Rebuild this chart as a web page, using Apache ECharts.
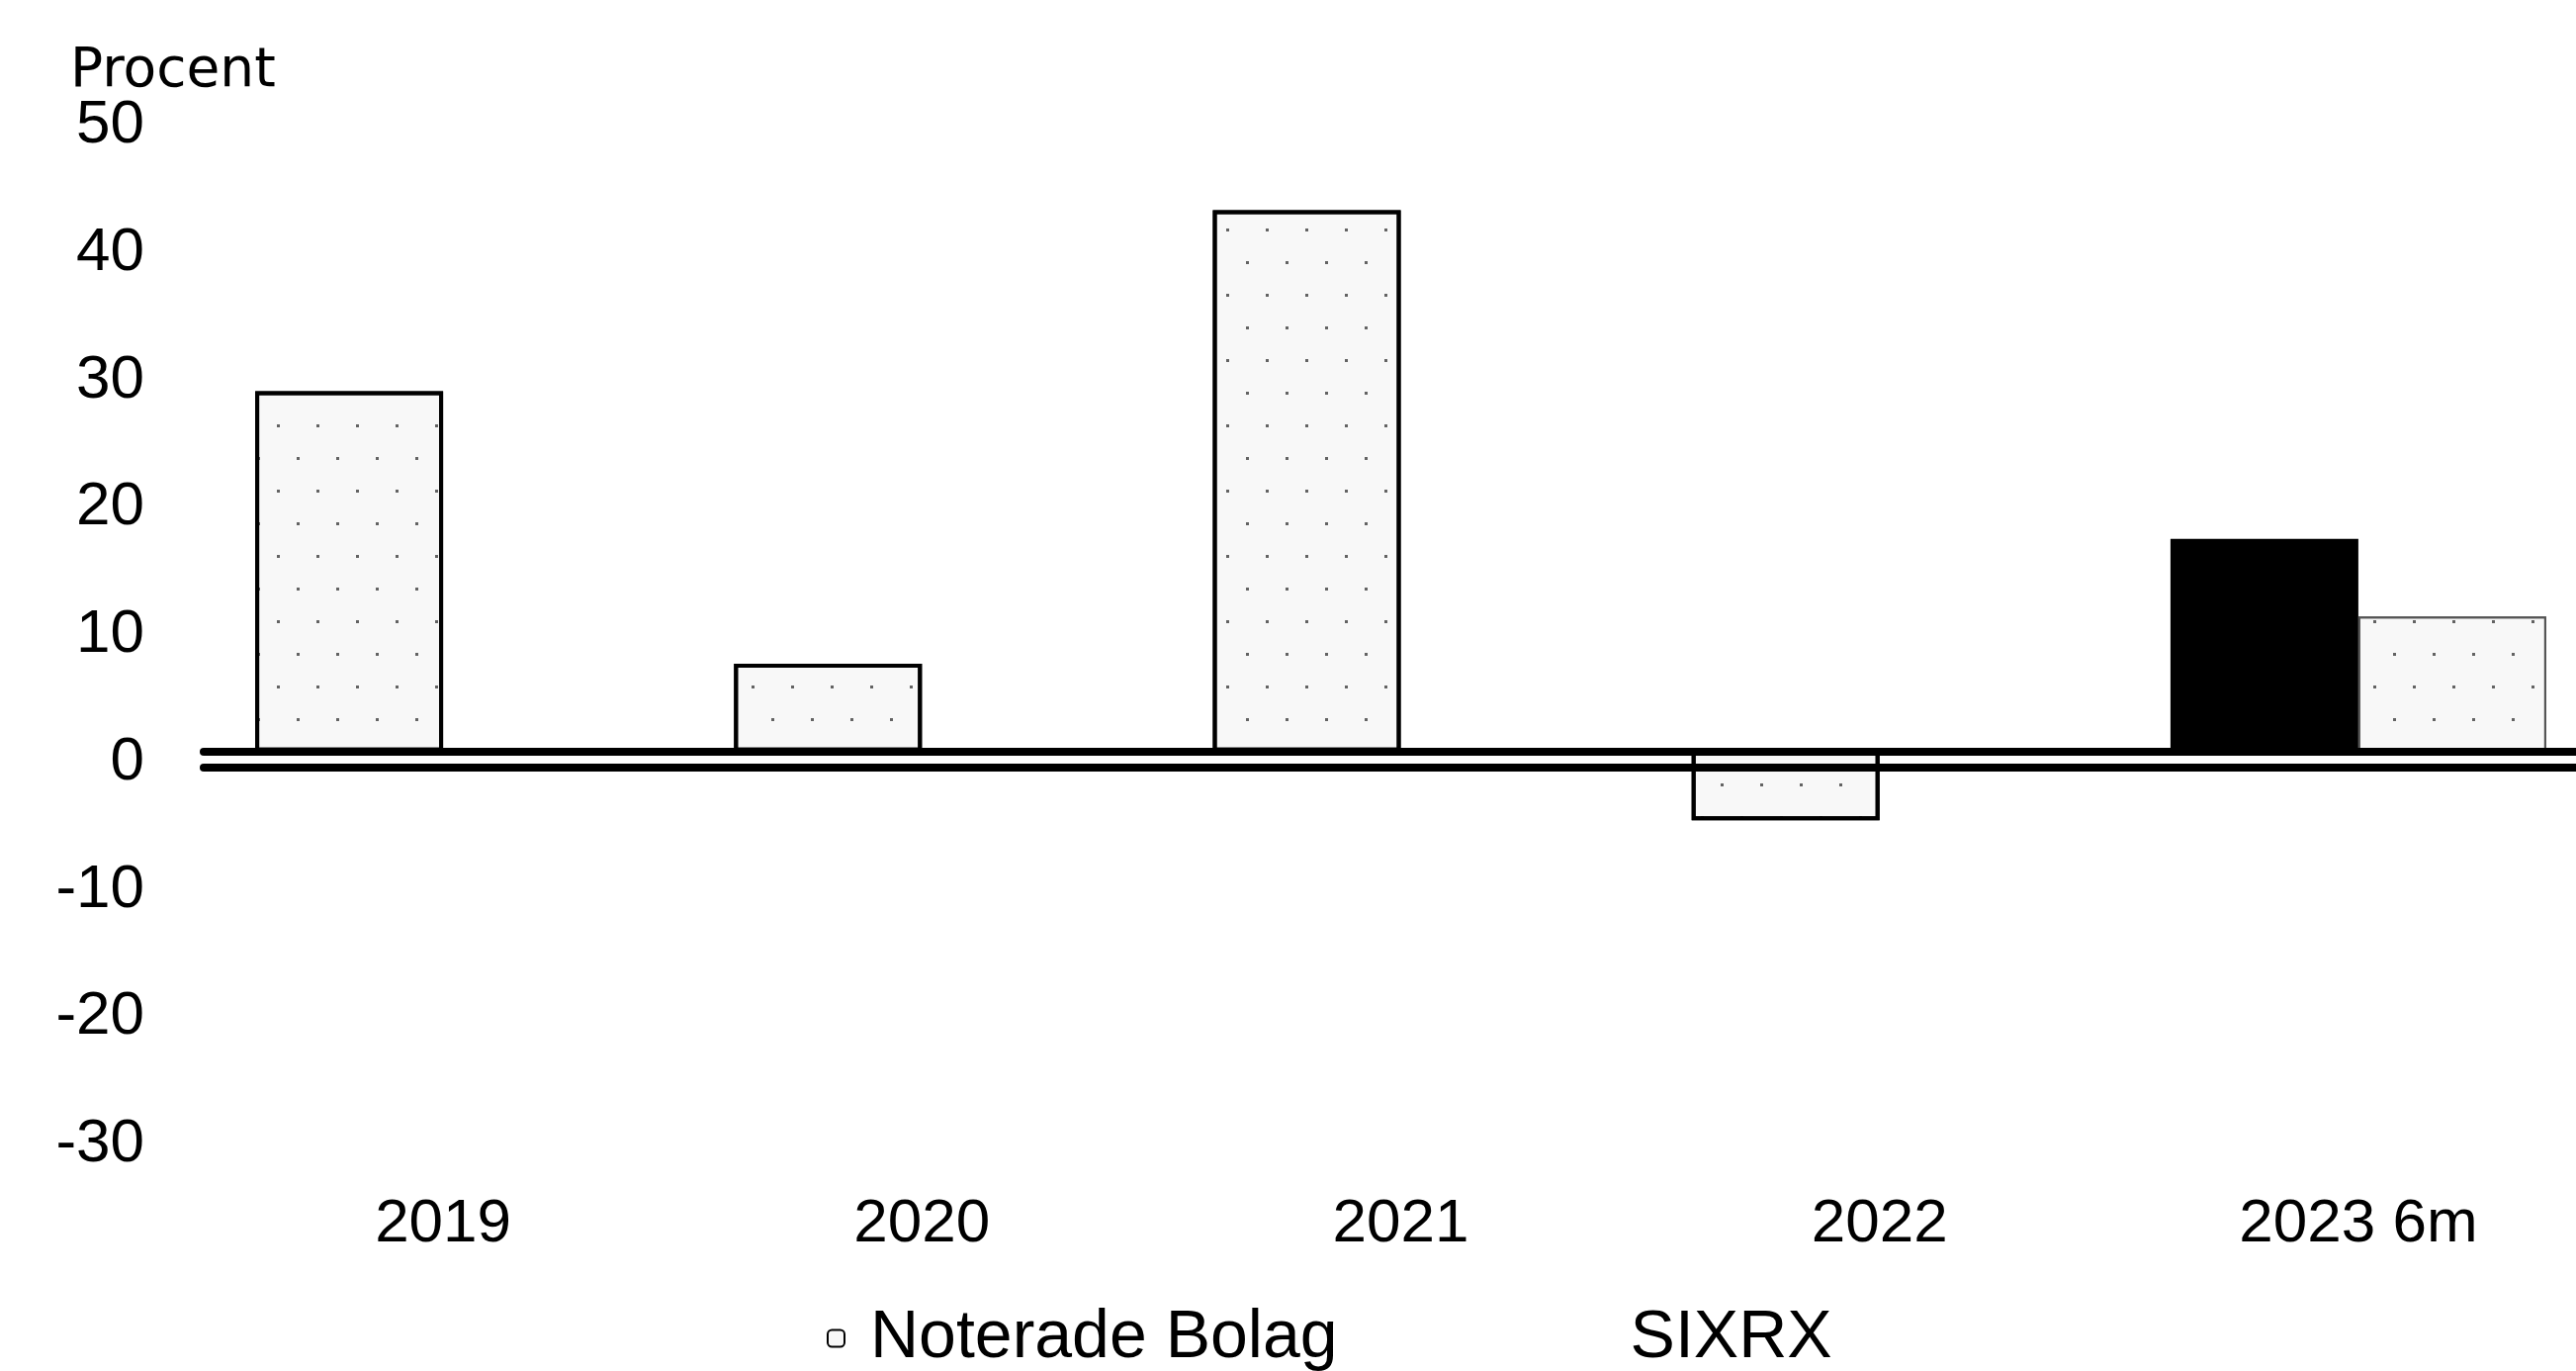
<!DOCTYPE html>
<html>
<head>
<meta charset="utf-8">
<script src="https://cdn.jsdelivr.net/npm/echarts@6/dist/echarts.min.js"></script>
<style>
  html, body { margin: 0; padding: 0; background: #fff; overflow: hidden; }
  #main { width: 2630px; height: 1386px; }
</style>
</head>
<body>
<div id="main"></div>
<script>
const years = ['2019', '2020', '2021', '2022', '2023 6m'];
// left bar in each group
const noteradeLeft = [28.3, 6.9, 42.5, -5.4, null];
const sixrxLeft = [null, null, null, null, 16.7];
// right bar in each group
const noteradeRight = [null, null, null, null, 10.6];
const yTicks = { min: -30, max: 50, step: 10 };

document.addEventListener("DOMContentLoaded", function () {
    // the plot runs a little past the right edge of the picture, so the div is wider than the window
    var chart = echarts.init(document.getElementById('main'));

    let dotted = {
        color: '#f8f8f8',
        borderColor: '#000',
        borderWidth: 4,
        decal: {
            symbol: 'rect',
            symbolSize: 1,
            color: 'rgba(0,0,0,0.6)',
            dashArrayX: [[3, 37], [0, 20, 3, 17]],
            dashArrayY: [3, 30]
        }
    };

    let axisFont = { fontFamily: 'Liberation Sans, Arial, sans-serif', fontSize: 62, color: '#000' };

    var option = {
        animation: false,
        backgroundColor: '#fff',
        title: {
            text: 'Procent',
            left: 66,
            top: 40,
            textStyle: { fontFamily: 'DejaVu Sans', fontSize: 55, fontWeight: 'normal', color: '#000' }
        },
        legend: {
            left: 831,
            top: 1314,
            itemWidth: 17,
            itemHeight: 17,
            itemGap: 253,
            textStyle: { fontFamily: 'Liberation Sans, Arial, sans-serif', fontSize: 68, color: '#000', padding: [0, 0, 0, 21] },
            data: [
                { name: 'Noterade Bolag', itemStyle: { borderWidth: 2, decal: 'none' } },
                { name: 'SIXRX', itemStyle: { color: 'rgba(0,0,0,0)', borderWidth: 0 } }
            ]
        },
        grid: { left: 206, right: 3, top: 116, bottom: 240, containLabel: false },
        xAxis: [
            {
                type: 'category',
                data: years,
                position: 'bottom',
                axisLine: { show: false, onZero: false },
                axisTick: { show: false },
                axisLabel: Object.assign({ margin: 61 }, axisFont),
                splitLine: { show: false }
            },
            {
                // double zero line
                type: 'category',
                data: years,
                position: 'bottom',
                z: 5,
                axisLine: {
                    show: true,
                    onZero: true,
                    lineStyle: { color: '#000', width: 8, shadowColor: '#000', shadowBlur: 0, shadowOffsetY: 16 }
                },
                axisTick: { show: false },
                axisLabel: { show: false },
                splitLine: { show: false }
            }
        ],
        yAxis: {
            type: 'value',
            min: yTicks.min,
            max: yTicks.max,
            interval: yTicks.step,
            axisLine: { show: false },
            axisTick: { show: false },
            splitLine: { show: false },
            axisLabel: Object.assign({ margin: 60, verticalAlign: 'top', lineHeight: 22 }, axisFont)
        },
        series: [
            {
                name: 'Noterade Bolag',
                type: 'bar',
                stack: 'left',
                data: noteradeLeft,
                barWidth: 190,
                barGap: '0%',
                itemStyle: dotted
            },
            {
                name: 'SIXRX',
                type: 'bar',
                stack: 'left',
                data: sixrxLeft,
                barWidth: 190,
                barGap: '0%',
                itemStyle: { color: '#000', borderColor: '#000', borderWidth: 2 }
            },
            {
                name: 'Noterade Bolag',
                type: 'bar',
                stack: 'right',
                data: noteradeRight,
                barWidth: 190,
                barGap: '0%',
                itemStyle: Object.assign({}, dotted, { borderWidth: 2, borderColor: '#555' })
            }
        ]
    };

    chart.setOption(option);
});
</script>
</body>
</html>
